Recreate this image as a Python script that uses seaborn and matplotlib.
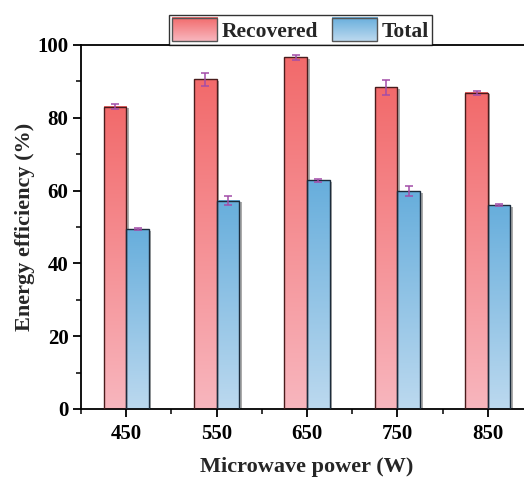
import numpy as np
import pandas as pd
import matplotlib
matplotlib.use("Agg")
import matplotlib.pyplot as plt
import matplotlib.patheffects as pe
from matplotlib.colors import LinearSegmentedColormap
from matplotlib.legend_handler import HandlerBase
from matplotlib.patches import Rectangle, Patch
from matplotlib.image import BboxImage
from matplotlib.transforms import Bbox, TransformedBbox
from matplotlib.ticker import MultipleLocator, FixedLocator
import seaborn as sns

powers = ["450", "550", "650", "750", "850"]
recovered = [83.1, 90.6, 96.6, 88.4, 86.9]
recovered_err = [0.6, 1.8, 0.7, 2.0, 0.6]
total = [49.4, 57.2, 62.8, 59.8, 56.0]
total_err = [0.3, 1.2, 0.4, 1.4, 0.3]
series = ["Recovered", "Total"]

sns.set_theme(style="ticks")
plt.rcParams["font.family"] = ["Liberation Serif", "DejaVu Serif"]
plt.rcParams["font.weight"] = "bold"

df = pd.DataFrame({
    "power": powers * 2,
    "value": recovered + total,
    "series": [series[0]] * len(powers) + [series[1]] * len(powers),
})

grad = {
    "Recovered": ("#F26A6B", "#F8B6BE", "#4a1c1c"),
    "Total": ("#67AEDC", "#BCD9EF", "#1c2c3c"),
}

fig = plt.figure(figsize=(5.24, 4.79), dpi=100)
ax = fig.add_axes([81 / 524, 1 - 409 / 479, 452 / 524, 364 / 479])

sns.barplot(data=df, x="power", y="value", hue="series", order=powers,
            hue_order=series, width=0.5, ax=ax, legend=False,
            palette={"Recovered": "#F28A8F", "Total": "#8DC2E5"},
            edgecolor="black", linewidth=1.0)

errs = {"Recovered": recovered_err, "Total": total_err}
for cont, name in zip(ax.containers, series):
    ctop, cbot, edge = grad[name]
    cmap = LinearSegmentedColormap.from_list(name, [cbot, ctop])
    xs = []
    for bar in cont.patches:
        x0, w, h = bar.get_x(), bar.get_width(), bar.get_height()
        y0 = bar.get_y()
        bar.set_facecolor("#888888")
        bar.set_edgecolor("none")
        bar.set_zorder(2)
        bar.set_path_effects([pe.SimplePatchShadow(offset=(1.8, -1.2), shadow_rgbFace="#666666", alpha=0.55)])
        g = np.linspace(0, 1, 256).reshape(-1, 1)
        ax.imshow(g, cmap=cmap, origin="lower", aspect="auto",
                  extent=[x0, x0 + w, y0, y0 + h], zorder=2.5, interpolation="bicubic")
        outline = Rectangle((x0, y0), w, h, facecolor="none", edgecolor=edge,
                            linewidth=1.0, zorder=3)
        ax.add_patch(outline)
        xs.append(x0 + w / 2)
    vals = recovered if name == "Recovered" else total
    ax.errorbar(xs, vals, yerr=errs[name], fmt="none", ecolor="#A34DA8",
                elinewidth=1.1, capsize=3, capthick=1.1, zorder=4)

ax.set_xlim(-0.5, 4.5)
ax.set_ylim(0, 100)
ax.yaxis.set_major_locator(MultipleLocator(20))
ax.yaxis.set_minor_locator(MultipleLocator(10))
ax.xaxis.set_minor_locator(FixedLocator(np.arange(-0.5, 5.0, 1.0)))
for s in ["left", "bottom", "top", "right"]:
    ax.spines[s].set_linewidth(1.3)
    ax.spines[s].set_color("black")
ax.tick_params(axis="both", which="major", direction="out", length=6, width=1.3,
               labelsize=15, colors="black")
ax.tick_params(axis="x", which="major", pad=5)
ax.tick_params(axis="y", which="major", pad=3)
ax.tick_params(axis="both", which="minor", direction="out", length=3.5, width=1.3)
ax.tick_params(top=False, right=False, which="both")
for lab in ax.get_xticklabels() + ax.get_yticklabels():
    lab.set_fontweight("bold")
ax.set_xlabel("Microwave power (W)", fontsize=16, fontweight="bold", labelpad=9)
ax.set_ylabel("Energy efficiency (%)", fontsize=16, fontweight="bold", labelpad=1.5)


class GradHandler(HandlerBase):
    def __init__(self, ctop, cbot, edge):
        super().__init__()
        self.cmap = LinearSegmentedColormap.from_list("h", [cbot, ctop])
        self.edge = edge

    def create_artists(self, legend, orig_handle, xdescent, ydescent, width, height, fontsize, trans):
        bb = TransformedBbox(Bbox.from_bounds(-xdescent, -ydescent, width, height), trans)
        img = BboxImage(bb, cmap=self.cmap, interpolation="bicubic", origin="lower")
        img.set_data(np.linspace(0, 1, 64).reshape(-1, 1))
        rect = Rectangle((-xdescent, -ydescent), width, height, facecolor="none",
                         edgecolor="#555555", linewidth=1.0, transform=trans)
        return [img, rect]


handles = [Patch(label=s) for s in series]
hmap = {handles[i]: GradHandler(*grad[s]) for i, s in enumerate(series)}
leg = ax.legend(handles=handles, labels=series, handler_map=hmap, loc="lower center",
                bbox_to_anchor=(0.485, 1.0), ncol=2, frameon=True, fancybox=False,
                shadow=False, borderaxespad=0.0, handlelength=2.1, handleheight=1.3,
                columnspacing=0.65, handletextpad=0.2, borderpad=0.15,
                prop={"weight": "bold", "size": 15.5})
leg.get_frame().set_edgecolor("black")
leg.get_frame().set_linewidth(1.0)

fig.savefig("out.png", dpi=100)
